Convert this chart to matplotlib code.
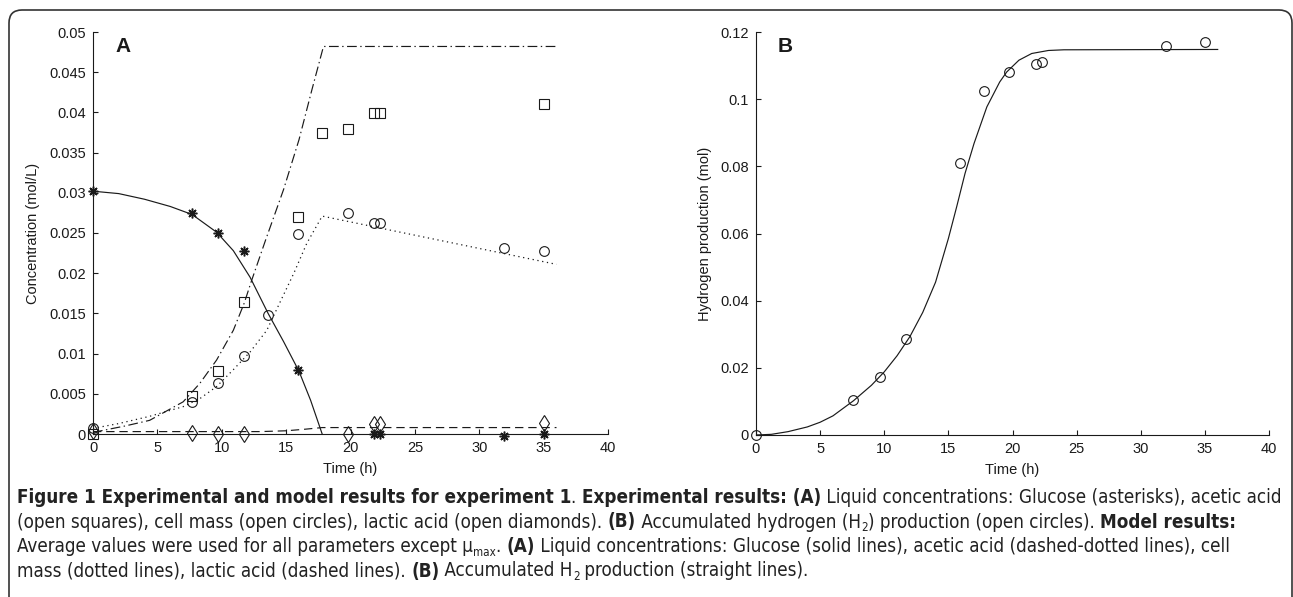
import matplotlib
matplotlib.use("Agg")
import matplotlib.pyplot as plt
from matplotlib.patches import FancyBboxPatch
from matplotlib.font_manager import FontProperties, fontManager
import numpy as np

# ---- panel A: experimental data (mol/L) ----
glu_t = [0, 7.7, 9.7, 11.7, 15.9, 21.8, 22.3, 31.9, 35]
glu_c = [0.0302, 0.0275, 0.0250, 0.0228, 0.0080, 0.0, 0.0, -0.0002, 0.0]
ace_t = [0, 7.7, 9.7, 11.7, 15.9, 17.8, 19.8, 21.8, 22.3, 35]
ace_c = [0.0, 0.0047, 0.0078, 0.0164, 0.0270, 0.0375, 0.0379, 0.0399, 0.0399, 0.0411]
cel_t = [0, 7.7, 9.7, 11.7, 13.6, 15.9, 19.8, 21.8, 22.3, 31.9, 35]
cel_c = [0.0007, 0.0040, 0.0063, 0.0097, 0.0148, 0.0249, 0.0275, 0.0262, 0.0262, 0.0231, 0.0227]
lac_t = [0, 7.7, 9.7, 11.7, 19.8, 21.8, 22.3, 35]
lac_c = [0.0004, 0.0001, 0.0, 0.0, 0.0, 0.0012, 0.0012, 0.0014]

# ---- panel A: model curves ----
glu_mt = [0, 2, 4, 6, 7.7, 9.6, 10.9, 12.2, 13.6, 14.8, 16, 16.9, 17.8]
glu_mc = [0.0302, 0.0299, 0.0292, 0.0283, 0.0273, 0.0251, 0.0228, 0.0195, 0.0150,
          0.0115, 0.0078, 0.0042, 0.0]
ace_mt = [0, 2.5, 4.4, 7.0, 8.3, 9.6, 10.9, 11.75, 12.3, 13.4, 14.8, 16.0, 17.0, 17.9, 36]
ace_mc = [0.0002, 0.0010, 0.0017, 0.0040, 0.0063, 0.0092, 0.0129, 0.0163, 0.0190,
          0.0241, 0.0304, 0.0366, 0.0428, 0.0482, 0.0482]
cel_mt = [0, 2, 4.4, 7.0, 8.3, 9.6, 10.9, 12.2, 13.5, 14.5, 15.6, 16.6, 17.8, 36]
cel_mc = [0.0007, 0.0013, 0.0022, 0.0034, 0.0044, 0.0059, 0.0080, 0.0102, 0.0129,
          0.0163, 0.0200, 0.0237, 0.0271, 0.0211]
lac_mt = [0, 13, 15, 16.5, 17.8, 36]
lac_mc = [0.0003, 0.0003, 0.0004, 0.0006, 0.0008, 0.0008]

# ---- panel B: hydrogen production (mol) ----
h2_t = [0, 7.6, 9.7, 11.7, 15.9, 17.8, 19.7, 21.8, 22.3, 32, 35]
h2_v = [0.0, 0.0104, 0.0174, 0.0286, 0.0811, 0.1024, 0.1081, 0.1106, 0.1110, 0.1159, 0.1169]
h2_mt = [0, 1.2, 2.5, 4, 5, 6, 7.6, 9, 10, 11, 12, 13, 14, 15, 15.65, 16.3, 17, 18,
         19, 19.55, 20.5, 21.5, 22.8, 24, 36]
h2_mv = [0.0, 0.0002, 0.0010, 0.0024, 0.0038, 0.0057, 0.0102, 0.0148, 0.0188, 0.0236,
         0.0293, 0.0365, 0.0455, 0.0585, 0.0680, 0.0779, 0.0868, 0.0977, 0.1051, 0.1081,
         0.1116, 0.1136, 0.1145, 0.1147, 0.1148]

W, H = 1293, 597
INK = "#1a1a1a"
plt.rcParams["font.family"] = ["Liberation Sans", "DejaVu Sans"]
plt.rcParams["lines.scale_dashes"] = False

fig = plt.figure(figsize=(W / 100, H / 100), dpi=100)


def px_axes(x0, x1, ytop, ybot):
    return fig.add_axes([x0 / W, 1 - ybot / H, (x1 - x0) / W, (ybot - ytop) / H])


def style(ax, ymax, ystep, ylabel, letter):
    ax.set_xlim(0, 40)
    ax.set_ylim(0, ymax)
    ax.set_xticks(np.arange(0, 41, 5))
    ax.set_yticks(np.arange(0, ymax + ystep / 2, ystep))
    ax.yaxis.set_major_formatter(plt.FuncFormatter(lambda v, p: f"{v:g}"))
    for s in ("top", "right"):
        ax.spines[s].set_visible(False)
    for s in ("left", "bottom"):
        ax.spines[s].set_linewidth(0.8)
        ax.spines[s].set_color(INK)
    ax.tick_params(direction="in", length=3.5, width=0.8, colors=INK,
                   labelsize=10.5, pad=5)
    ax.set_xlabel("Time (h)", fontsize=10.5, labelpad=5, color=INK)
    ax.set_ylabel(ylabel, fontsize=10.5, color=INK)
    ax.text(0.043, 0.965, letter, transform=ax.transAxes, fontsize=15,
            fontweight="bold", ha="left", va="center", color=INK)


mk = dict(linestyle="none", mfc="none", mec=INK, mew=0.8, clip_on=False)

axA = px_axes(93, 608, 32, 434)
style(axA, 0.05, 0.005, "Concentration (mol/L)", "A")
axA.yaxis.set_label_coords(-53 / 515, 0.5)
axA.plot(glu_mt, glu_mc, "-", color=INK, lw=0.85)
axA.plot(ace_mt, ace_mc, color=INK, lw=0.85, dashes=(7, 2.5, 1, 2.5))
axA.plot(cel_mt, cel_mc, color=INK, lw=0.9, dashes=(0.9, 2.6))
axA.plot(lac_mt, lac_mc, color=INK, lw=0.85, dashes=(6, 3.5))
axA.plot(glu_t, glu_c, marker=(8, 2, 0), ms=7, **{**mk, "mew": 1.1})
axA.plot(ace_t, ace_c, marker="s", ms=7, **mk)
axA.plot(cel_t, cel_c, marker="o", ms=7, **mk)
axA.plot(lac_t, lac_c, marker="d", ms=8, **mk)

axB = px_axes(756, 1269, 32, 435)
style(axB, 0.12, 0.02, "Hydrogen production (mol)", "B")
axB.yaxis.set_label_coords(-44 / 513, 0.5)
axB.plot(h2_mt, h2_mv, "-", color=INK, lw=0.85)
axB.plot(h2_t, h2_v, marker="o", ms=7, **mk)

# rounded frame around the figure
frame = FancyBboxPatch((9 / 100, -2.0), (1292 - 9) / 100, (597 - 10) / 100 + 2.0,
                       boxstyle="round,pad=0,rounding_size=0.13",
                       transform=fig.dpi_scale_trans, fill=False,
                       ec="#333333", lw=1.2)
fig.add_artist(frame)


# ---- caption font: a narrow face if one is installed ----
def pick_caption_fonts():
    cands = []
    for f in fontManager.ttflist:
        nm = f.name.lower()
        narrow = ("narrow" in nm or "condensed" in nm or
                  f.stretch in ("condensed", "semi-condensed"))
        if narrow and f.style == "normal":
            cands.append(f)
    pref = ["liberation sans narrow", "dejavu sans", "roboto condensed", "open sans condensed"]
    cands.sort(key=lambda f: next((i for i, p in enumerate(pref) if f.name.lower().startswith(p)), 99))
    for f in cands:
        w = f.weight if isinstance(f.weight, int) else 400
        if w <= 500:
            bold = [g for g in cands if g.name == f.name and g.stretch == f.stretch
                    and isinstance(g.weight, int) and g.weight >= 600]
            if bold:
                return FontProperties(fname=f.fname), FontProperties(fname=bold[0].fname)
    return (FontProperties(family=["Liberation Sans", "DejaVu Sans"]),
            FontProperties(family=["Liberation Sans", "DejaVu Sans"], weight="bold"))


FP_N, FP_B = pick_caption_fonts()
B, N = "bold", "normal"
cap_lines = [
    [("Figure 1 Experimental and model results for experiment 1", B, 0), (". ", N, 0),
     ("Experimental results: (A)", B, 0),
     (" Liquid concentrations: Glucose (asterisks), acetic acid", N, 0)],
    [("(open squares), cell mass (open circles), lactic acid (open diamonds). ", N, 0),
     ("(B)", B, 0), (" Accumulated hydrogen (H", N, 0), ("2", N, 1),
     (") production (open circles). ", N, 0), ("Model results:", B, 0)],
    [("Average values were used for all parameters except \u03bc", N, 0), ("max", N, 1),
     (". ", N, 0), ("(A)", B, 0),
     (" Liquid concentrations: Glucose (solid lines), acetic acid (dashed-dotted lines), cell", N, 0)],
    [("mass (dotted lines), lactic acid (dashed lines). ", N, 0), ("(B)", B, 0),
     (" Accumulated H", N, 0), ("2", N, 1), (" production (straight lines).", N, 0)],
]
cap_base = [503, 527.5, 552, 576.5]

renderer = fig.canvas.get_renderer()


def fp_for(weight, size):
    fp = (FP_B if weight == B else FP_N).copy()
    fp.set_size(size)
    if weight == B:
        fp.set_weight("bold")
    return fp


def text_w(s, size, weight):
    fp = fp_for(weight, size)
    wa = renderer.get_text_width_height_descent("x" + s + "x", fp, ismath=False)[0]
    wb = renderer.get_text_width_height_descent("xx", fp, ismath=False)[0]
    return wa - wb


def line_w(segs, size):
    return sum(text_w(s, size * (0.62 if sub else 1), w) for s, w, sub in segs)


size = 11.0 * (1284 - 17) / line_w(cap_lines[0], 11.0)
size = min(size, 14.0)
for segs, yb in zip(cap_lines, cap_base):
    x = 17.0
    for s, w, sub in segs:
        fs = size * (0.62 if sub else 1)
        y = yb + (3.5 if sub else 0)
        fig.text(x / W, 1 - y / H, s, fontproperties=fp_for(w, fs),
                 ha="left", va="baseline", color="#222222")
        x += text_w(s, fs, w)

fig.savefig("out.png", dpi=100)
